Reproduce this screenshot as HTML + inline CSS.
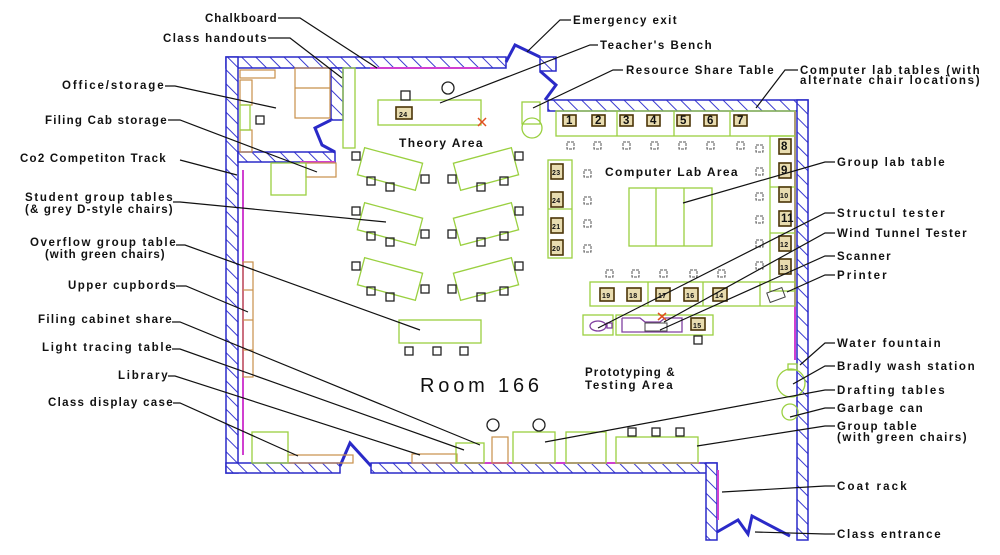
<!DOCTYPE html>
<html><head><meta charset="utf-8"><style>
html,body{margin:0;padding:0;background:#fff;}
svg{display:block}
text{font-family:"Liberation Sans",sans-serif;font-size:11.5px;font-weight:bold;fill:#111;letter-spacing:0.4px;}
</style></head><body>
<svg width="1000" height="555" viewBox="0 0 1000 555" xmlns="http://www.w3.org/2000/svg">
<defs>
<pattern id="h" patternUnits="userSpaceOnUse" width="10" height="10" patternTransform="rotate(-45)">
<rect width="10" height="10" fill="#fff"/><line x1="0" y1="0" x2="0" y2="10" stroke="#3a3ad0" stroke-width="2"/>
</pattern>
</defs>
<g stroke="#2a2ac8" stroke-width="1.5" fill="url(#h)">
<rect x="226" y="57" width="280" height="11"/>
<rect x="540" y="57" width="16" height="14"/>
<rect x="548" y="100" width="260" height="11"/>
<rect x="797" y="100" width="11" height="440"/>
<rect x="226" y="57" width="12" height="416"/>
<rect x="226" y="463" width="114" height="10"/>
<rect x="371" y="463" width="346" height="10"/>
<rect x="706" y="463" width="11" height="77"/>
<rect x="331" y="68" width="12" height="52"/>
<rect x="238" y="152" width="97" height="10"/>
</g>
<g stroke="#2a2ac8" stroke-width="3" fill="none">
<polyline points="506,62 515,45 540,57"/>
<polyline points="540,71 556,85 545,100"/>
<polyline points="331,120 315,128 322,145 335,152"/>
<polyline points="340,466 350,443 371,466"/>
<polyline points="717,532 738,520 748,534 752,516 790,536"/>
</g>
<g stroke="#d040d0" stroke-width="2" fill="none">
<line x1="370" y1="68" x2="480" y2="68"/>
<line x1="795" y1="111" x2="795" y2="360"/>
<line x1="460" y1="463" x2="700" y2="463"/>
<line x1="718" y1="470" x2="718" y2="520"/>
<line x1="300" y1="162" x2="335" y2="162"/>
<line x1="243" y1="170" x2="243" y2="455"/>
</g>
<g stroke="#c8904a" stroke-width="1.2" fill="none">
<rect x="240" y="70" width="35" height="8"/>
<rect x="295" y="68" width="35" height="50"/>
<line x1="295" y1="88" x2="330" y2="88"/>
<rect x="240" y="80" width="12" height="25"/>
<rect x="240" y="130" width="12" height="22"/>
<rect x="306" y="163" width="30" height="14"/>
<rect x="243" y="262" width="10" height="115"/>
<line x1="243" y1="290" x2="253" y2="290"/><line x1="243" y1="320" x2="253" y2="320"/><line x1="243" y1="350" x2="253" y2="350"/>
<rect x="288" y="455" width="65" height="8"/>
<rect x="412" y="454" width="45" height="9"/>
<rect x="492" y="437" width="16" height="26"/>
</g>
<g stroke="#9ad040" stroke-width="1.3" fill="none">
<rect x="240" y="105" width="10" height="25"/>
<rect x="343" y="68" width="12" height="80"/>
<rect x="271" y="163" width="35" height="32"/>
<rect x="378" y="100" width="103" height="25"/>
<rect x="522" y="102" width="18" height="22"/>
<circle cx="532" cy="128" r="10"/>
<rect x="556" y="111" width="239" height="25"/>
<line x1="617" y1="111" x2="617" y2="136"/><line x1="674" y1="111" x2="674" y2="136"/><line x1="730" y1="111" x2="730" y2="136"/>
<rect x="770" y="136" width="25" height="155"/>
<line x1="770" y1="187" x2="795" y2="187"/><line x1="770" y1="233" x2="795" y2="233"/>
<rect x="548" y="160" width="24" height="98"/>
<line x1="548" y1="209" x2="572" y2="209"/>
<rect x="629" y="188" width="83" height="58"/>
<line x1="656" y1="188" x2="656" y2="246"/><line x1="684" y1="188" x2="684" y2="246"/>
<rect x="590" y="282" width="205" height="24"/>
<line x1="648" y1="282" x2="648" y2="306"/><line x1="703" y1="282" x2="703" y2="306"/><line x1="760" y1="282" x2="760" y2="306"/>
<rect x="583" y="315" width="30" height="20"/>
<rect x="616" y="315" width="97" height="20"/>
<rect x="399" y="320" width="82" height="23"/>
<rect x="252" y="432" width="36" height="31"/>
<rect x="456" y="443" width="28" height="20"/>
<rect x="513" y="432" width="42" height="31"/>
<rect x="566" y="432" width="40" height="31"/>
<rect x="616" y="437" width="82" height="26"/>
<circle cx="791" cy="383" r="14"/>
<rect x="788" y="364" width="9" height="6"/>
<circle cx="790" cy="412" r="8"/>
<rect x="360" y="155" width="60" height="28" transform="rotate(15 390 169)"/>
<rect x="360" y="210" width="60" height="28" transform="rotate(15 390 224)"/>
<rect x="360" y="265" width="60" height="28" transform="rotate(15 390 279)"/>
<rect x="456" y="155" width="60" height="28" transform="rotate(-15 486 169)"/>
<rect x="456" y="210" width="60" height="28" transform="rotate(-15 486 224)"/>
<rect x="456" y="265" width="60" height="28" transform="rotate(-15 486 279)"/>
</g>
<g stroke="#222" stroke-width="1.3" fill="none">
<rect x="352" y="152" width="8" height="8"/><rect x="367" y="177" width="8" height="8"/><rect x="386" y="183" width="8" height="8"/><rect x="421" y="175" width="8" height="8"/>
<rect x="352" y="207" width="8" height="8"/><rect x="367" y="232" width="8" height="8"/><rect x="386" y="238" width="8" height="8"/><rect x="421" y="230" width="8" height="8"/>
<rect x="352" y="262" width="8" height="8"/><rect x="367" y="287" width="8" height="8"/><rect x="386" y="293" width="8" height="8"/><rect x="421" y="285" width="8" height="8"/>
<rect x="448" y="175" width="8" height="8"/><rect x="477" y="183" width="8" height="8"/><rect x="500" y="177" width="8" height="8"/><rect x="515" y="152" width="8" height="8"/>
<rect x="448" y="230" width="8" height="8"/><rect x="477" y="238" width="8" height="8"/><rect x="500" y="232" width="8" height="8"/><rect x="515" y="207" width="8" height="8"/>
<rect x="448" y="285" width="8" height="8"/><rect x="477" y="293" width="8" height="8"/><rect x="500" y="287" width="8" height="8"/><rect x="515" y="262" width="8" height="8"/>
<rect x="405" y="347" width="8" height="8"/><rect x="433" y="347" width="8" height="8"/><rect x="460" y="347" width="8" height="8"/>
<rect x="401" y="91" width="9" height="9"/><circle cx="448" cy="88" r="6"/>
<rect x="256" y="116" width="8" height="8"/>
<circle cx="493" cy="425" r="6"/><circle cx="539" cy="425" r="6"/>
<rect x="628" y="428" width="8" height="8"/><rect x="652" y="428" width="8" height="8"/><rect x="676" y="428" width="8" height="8"/>
<rect x="694" y="336" width="8" height="8"/>
</g>
<g stroke="#555" stroke-width="1" fill="none" stroke-dasharray="3,1">
<rect x="567" y="142" width="7" height="7"/><rect x="594" y="142" width="7" height="7"/><rect x="623" y="142" width="7" height="7"/><rect x="651" y="142" width="7" height="7"/><rect x="679" y="142" width="7" height="7"/><rect x="707" y="142" width="7" height="7"/><rect x="737" y="142" width="7" height="7"/><rect x="756" y="145" width="7" height="7"/>
<rect x="756" y="168" width="7" height="7"/><rect x="756" y="193" width="7" height="7"/><rect x="756" y="216" width="7" height="7"/><rect x="756" y="240" width="7" height="7"/><rect x="756" y="262" width="7" height="7"/>
<rect x="584" y="170" width="7" height="7"/><rect x="584" y="197" width="7" height="7"/><rect x="584" y="220" width="7" height="7"/><rect x="584" y="245" width="7" height="7"/>
<rect x="606" y="270" width="7" height="7"/><rect x="632" y="270" width="7" height="7"/><rect x="660" y="270" width="7" height="7"/><rect x="690" y="270" width="7" height="7"/><rect x="718" y="270" width="7" height="7"/>
</g>
<g stroke="#4a3408" stroke-width="1.6" fill="#e8dcb0">
<rect x="563" y="115" width="13" height="11"/><rect x="592" y="115" width="13" height="11"/><rect x="620" y="115" width="13" height="11"/><rect x="647" y="115" width="13" height="11"/><rect x="677" y="115" width="13" height="11"/><rect x="704" y="115" width="13" height="11"/><rect x="734" y="115" width="13" height="11"/>
<rect x="779" y="139" width="12" height="15"/><rect x="779" y="163" width="12" height="15"/><rect x="779" y="187" width="12" height="15"/><rect x="779" y="211" width="12" height="15"/><rect x="779" y="236" width="12" height="15"/><rect x="779" y="259" width="12" height="15"/>
<rect x="551" y="164" width="12" height="15"/><rect x="551" y="192" width="12" height="15"/><rect x="551" y="218" width="12" height="15"/><rect x="551" y="240" width="12" height="15"/>
<rect x="600" y="288" width="14" height="13"/><rect x="627" y="288" width="14" height="13"/><rect x="656" y="288" width="14" height="13"/><rect x="684" y="288" width="14" height="13"/><rect x="713" y="288" width="14" height="13"/>
<rect x="691" y="318" width="14" height="12"/>
<rect x="396" y="107" width="16" height="12"/>
</g>
<g style="font-size:8px;font-weight:normal">
<text x="566" y="124">1</text><text x="595" y="124">2</text><text x="623" y="124">3</text><text x="650" y="124">4</text><text x="680" y="124">5</text><text x="707" y="124">6</text><text x="737" y="124">7</text>
<text x="781" y="150">8</text><text x="781" y="174">9</text><text x="780" y="198" style="font-size:7px">10</text><text x="781" y="222">11</text><text x="780" y="247" style="font-size:7px">12</text><text x="780" y="270" style="font-size:7px">13</text>
<text x="552" y="175" style="font-size:7px">23</text><text x="552" y="203" style="font-size:7px">24</text><text x="552" y="229" style="font-size:7px">21</text><text x="552" y="251" style="font-size:7px">20</text>
<text x="602" y="298" style="font-size:7px">19</text><text x="629" y="298" style="font-size:7px">18</text><text x="658" y="298" style="font-size:7px">17</text><text x="686" y="298" style="font-size:7px">16</text><text x="715" y="298" style="font-size:7px">14</text>
<text x="693" y="328" style="font-size:7px">15</text><text x="399" y="117" style="font-size:7px">24</text>
</g>
<g stroke="#8040a0" stroke-width="1.3" fill="none">
<ellipse cx="598" cy="326" rx="8" ry="5"/><rect x="607" y="323" width="5" height="5"/>
<polyline points="622,318 640,318 645,322 660,322 665,318 682,318 682,332 622,332 622,318"/>
</g>
<rect x="645" y="323" width="22" height="8" fill="none" stroke="#444"/>
<rect x="768" y="290" width="16" height="10" fill="none" stroke="#444" transform="rotate(-20 776 295)"/>
<g stroke="#e05020" stroke-width="1.5"><line x1="478" y1="118" x2="486" y2="126"/><line x1="486" y1="118" x2="478" y2="126"/><line x1="658" y1="313" x2="666" y2="320"/><line x1="666" y1="313" x2="658" y2="320"/></g>
<text x="399" y="147" textLength="84" style="font-size:12px">Theory Area</text>
<text x="605" y="176" textLength="133" style="font-size:12px">Computer Lab Area</text>
<text x="585" y="376" textLength="90">Prototyping &amp;</text>
<text x="585" y="389" textLength="88">Testing Area</text>
<text x="420" y="392" textLength="120" style="font-size:20px;font-weight:normal;letter-spacing:1px">Room 166</text>
<g stroke="#111" stroke-width="1.2" fill="none">
<polyline points="278,18 300,18 377,68"/>
<polyline points="268,38 290,38 342,78"/>
<polyline points="165,86 175,86 276,108"/>
<polyline points="168,120 180,120 317,172"/>
<polyline points="180,160 237,175"/>
<polyline points="173,202 180,202 386,222"/>
<polyline points="176,245 185,245 420,330"/>
<polyline points="176,286 186,286 248,312"/>
<polyline points="172,322 180,322 480,445"/>
<polyline points="172,349 180,349 464,450"/>
<polyline points="168,376 175,376 420,455"/>
<polyline points="173,403 180,403 298,456"/>
<polyline points="571,20 560,20 527,52"/>
<polyline points="598,45 590,45 440,103"/>
<polyline points="623,70 613,70 533,108"/>
<polyline points="798,70 785,70 756,108"/>
<polyline points="835,162 825,162 683,203"/>
<polyline points="835,213 825,213 598,328"/>
<polyline points="835,233 825,233 664,322"/>
<polyline points="835,256 825,256 660,330"/>
<polyline points="835,275 825,275 787,292"/>
<polyline points="835,343 825,343 800,365"/>
<polyline points="835,366 825,366 793,384"/>
<polyline points="835,390 825,390 545,442"/>
<polyline points="835,408 825,408 790,417"/>
<polyline points="835,426 825,426 697,446"/>
<polyline points="835,486 825,486 722,492"/>
<polyline points="835,534 825,534 755,532"/>
</g>
<g>
<text x="205" y="22" textLength="72">Chalkboard</text>
<text x="163" y="42" textLength="104">Class handouts</text>
<text x="62" y="89" textLength="102">Office/storage</text>
<text x="45" y="124" textLength="122">Filing Cab storage</text>
<text x="20" y="162" textLength="146">Co2 Competiton Track</text>
<text x="25" y="201" textLength="148">Student group tables</text>
<text x="25" y="213" textLength="148">(&amp; grey D-style chairs)</text>
<text x="30" y="246" textLength="146">Overflow group table</text>
<text x="45" y="258" textLength="120">(with green chairs)</text>
<text x="68" y="289" textLength="108">Upper cupbords</text>
<text x="38" y="323" textLength="134">Filing cabinet share</text>
<text x="42" y="351" textLength="130">Light tracing table</text>
<text x="118" y="379" textLength="50">Library</text>
<text x="48" y="406" textLength="125">Class display case</text>
<text x="573" y="24" textLength="104">Emergency exit</text>
<text x="600" y="49" textLength="112">Teacher's Bench</text>
<text x="626" y="74" textLength="148">Resource Share Table</text>
<text x="800" y="74" textLength="180">Computer lab tables (with</text>
<text x="800" y="84" textLength="180">alternate chair locations)</text>
<text x="837" y="166" textLength="108">Group lab table</text>
<text x="837" y="217" textLength="108">Structul tester</text>
<text x="837" y="237" textLength="130">Wind Tunnel Tester</text>
<text x="837" y="260" textLength="54">Scanner</text>
<text x="837" y="279" textLength="50">Printer</text>
<text x="837" y="347" textLength="104">Water fountain</text>
<text x="837" y="370" textLength="138">Bradly wash station</text>
<text x="837" y="394" textLength="108">Drafting tables</text>
<text x="837" y="412" textLength="86">Garbage can</text>
<text x="837" y="430" textLength="80">Group table</text>
<text x="837" y="441" textLength="130">(with green chairs)</text>
<text x="837" y="490" textLength="70">Coat rack</text>
<text x="837" y="538" textLength="104">Class entrance</text>
</g>
</svg>
</body></html>
